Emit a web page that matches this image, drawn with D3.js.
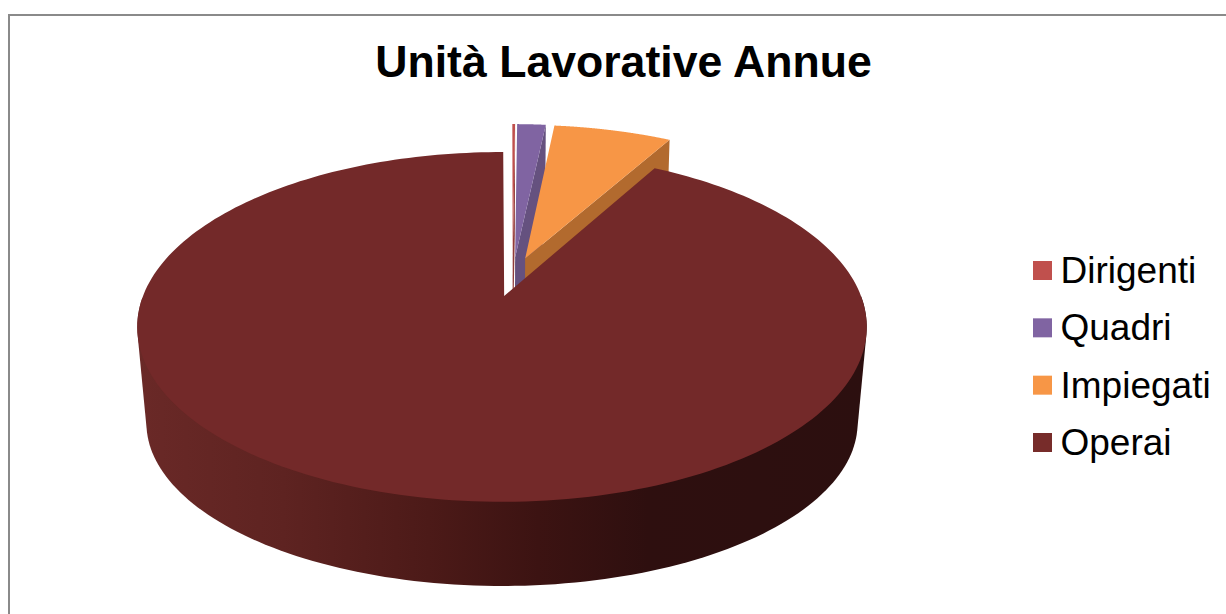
<!DOCTYPE html>
<html><head><meta charset="utf-8">
<script src="https://cdn.jsdelivr.net/npm/d3@7"></script>
<style>html,body{margin:0;background:#fff}svg{display:block}text{font-family:"Liberation Sans",Arial,sans-serif}</style>
</head><body><svg width="1226" height="614"></svg>
<script>
const categories = ["Dirigenti","Quadri","Impiegati","Operai"];
const values = [0.15,1.55,6.4,91.9];
const colors = ["#c0504d","#8064a2","#f79646","#732929"];
const legendColors = ["#c0504d","#8064a2","#f79646","#772c2a"];
const wallColors = ["#8f3b39","#65517f","#b26a2e","#732929"];
const titleText = "Unità Lavorative Annue";

const svg = d3.select("svg");
svg.append("path").attr("d","M9,614V15H1226").attr("fill","none").attr("stroke","#8a8a8a").attr("stroke-width",2);

svg.append("text").attr("x",623.5).attr("y",77).attr("text-anchor","middle")
  .attr("font-size",44.6).attr("font-weight","bold").text(titleText);

// perspective camera for the pie plane (u,v in disc units, z 0 top,1 bottom)
const cx=502,k=359,c=0.177,e=0.025,a=-117,b=296,f=108.7,as=24.8;
function proj(u,v,z){const w=1+c*v+e*z;return [cx+k*u/w,((a+as*z)*v+b+f*z)/w];}
const explode=0.24, rot=0.004, mainShift=0.006;
const pie=d3.pie().sort(null).startAngle(rot).endAngle(2*Math.PI+rot)(values);
const line=d3.line();

function sliceGeom(d,i){
  const exploded=i<3;
  const bis=(d.startAngle+d.endAngle)/2;
  const dir=0.55*bis+(i<2?0.125:0.112);
  const ox=exploded?explode*Math.sin(dir):mainShift, oy=exploded?explode*Math.cos(dir):0;
  const ts=d3.range(0,241).map(j=>d.startAngle+(d.endAngle-d.startAngle)*j/240);
  const fn=(t,z)=>proj((exploded?ox:0)+Math.sin(t),oy+Math.cos(t),z);
  return {apexT:proj(ox,oy,0),apexB:proj(ox,oy,1),
    top:ts.map(t=>fn(t,0)),bot:ts.map(t=>fn(t,1)),
    frontTop:ts.filter(t=>Math.cos(t)<0).map(t=>fn(t,0)),
    frontBot:ts.filter(t=>Math.cos(t)<0).map(t=>fn(t,1))};
}
const defs=svg.append("defs");
const grad=defs.append("linearGradient").attr("id","wall").attr("gradientUnits","userSpaceOnUse")
  .attr("x1",137).attr("x2",867).attr("y1",0).attr("y2",0);
[[0,"#6a2927"],[0.2,"#5e2321"],[0.4,"#4c1a18"],[0.55,"#3c1312"],[0.7,"#2e0f0f"],[1,"#2c0f0f"]]
  .forEach(s=>grad.append("stop").attr("offset",s[0]).attr("stop-color",s[1]));

// exploded slices: back to front
[0,1,2].forEach(i=>{
  const g=sliceGeom(pie[i],i), last=g.top[g.top.length-1], lastB=g.bot[g.bot.length-1];
  svg.append("path").attr("fill",wallColors[i])
    .attr("d",line([g.apexT,last,lastB,g.apexB])+"Z");
  svg.append("path").attr("fill",colors[i])
    .attr("d",line([g.apexT,...g.top])+"Z");
});
// main slice
const m=sliceGeom(pie[3],3);
svg.append("path").attr("fill","url(#wall)")
  .attr("d",line(d3.polygonHull([...m.frontTop,...m.frontBot]))+"Z");
svg.append("path").attr("fill",colors[3])
  .attr("d",line([m.apexT,...m.top])+"Z");

// legend
const yL=d3.scalePoint().domain(categories).range([270.5,442.5]);
const lg=svg.append("g").selectAll("g").data(categories).join("g")
  .attr("transform",d=>`translate(0,${yL(d)})`);
lg.append("rect").attr("x",1033).attr("y",-9.5).attr("width",19).attr("height",19)
  .attr("fill",(d,i)=>legendColors[i]);
lg.append("text").attr("x",1060.5).attr("y",12.5).attr("font-size",37).attr("fill","#000").text(d=>d);
</script></body></html>
